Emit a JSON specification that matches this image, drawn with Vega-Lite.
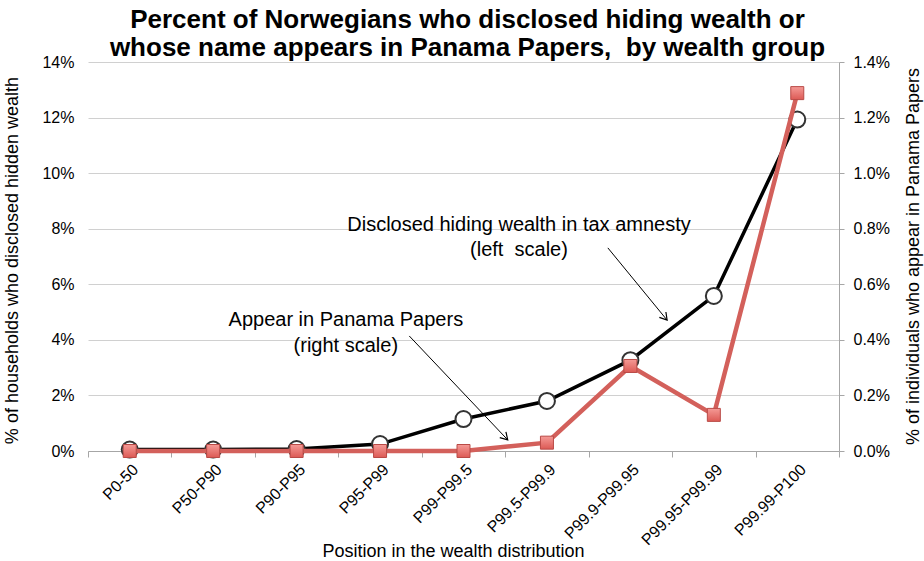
{
  "$schema": "https://vega.github.io/schema/vega-lite/v6.json",
  "width": 751,
  "height": 389,
  "autosize": {"type": "none"},
  "padding": {"left": 88, "top": 62, "right": 85, "bottom": 110},
  "config": {"font": "Liberation Sans", "view": {"stroke": null}},
  "title": {
    "text": ["Percent of Norwegians who disclosed hiding wealth or", "whose name appears in Panama Papers,\u00a0 by wealth group"],
    "fontSize": 26, "fontWeight": "bold", "color": "black", "anchor": "middle", "frame": "group",
    "offset": -7, "lineHeight": 28, "dx": 4
  },
  "datasets": {
    "groups": [
      {"group": "P0-50", "amnesty": 0.0005, "panama": 0.0},
      {"group": "P50-P90", "amnesty": 0.0005, "panama": 0.0},
      {"group": "P90-P95", "amnesty": 0.0007, "panama": 0.0},
      {"group": "P95-P99", "amnesty": 0.0025, "panama": 0.0},
      {"group": "P99-P99.5", "amnesty": 0.0115, "panama": 0.0},
      {"group": "P99.5-P99.9", "amnesty": 0.018, "panama": 0.0003},
      {"group": "P99.9-P99.95", "amnesty": 0.0327, "panama": 0.00306},
      {"group": "P99.95-P99.99", "amnesty": 0.0558, "panama": 0.0013},
      {"group": "P99.99-P100", "amnesty": 0.1193, "panama": 0.01288}
    ],
    "labels": [
      {"label": "Disclosed hiding wealth in tax amnesty", "x": 4.665, "y": 0.0815},
      {"label": "(left\u00a0 scale)", "x": 4.665, "y": 0.0723},
      {"label": "Appear in Panama Papers", "x": 2.59, "y": 0.0471},
      {"label": "(right scale)", "x": 2.59, "y": 0.0378}
    ],
    "arrows": [
      {"x1": 5.73, "y1": 0.0731, "x2": 6.44, "y2": 0.0471, "ang": 50.7},
      {"x1": 3.35, "y1": 0.0414, "x2": 4.53, "y2": 0.004, "ang": 46.4}
    ]
  },
  "layer": [
    {
      "data": {"name": "groups"},
      "mark": {
        "type": "line", "color": "black", "strokeWidth": 3.5,
        "point": {"filled": true, "fill": "white", "stroke": "#333333", "strokeWidth": 2, "size": 256, "opacity": 1}
      },
      "encoding": {
        "x": {
          "field": "group", "type": "nominal", "sort": null,
          "scale": {"type": "band", "paddingInner": 0, "paddingOuter": 0},
          "axis": {
            "title": "Position in the wealth distribution", "tickBand": "extent", "labelAngle": -45,
            "labelFontSize": 16, "labelColor": "black", "labelPadding": 4,
            "domainColor": "#a6a6a6", "tickColor": "#a6a6a6", "tickSize": 6, "grid": false,
            "titleFontSize": 18, "titleFontWeight": "normal", "titleColor": "black",
            "titleX": 365, "titleY": 100, "titleBaseline": "middle", "titleAlign": "center"
          }
        },
        "y": {
          "field": "amnesty", "type": "quantitative",
          "scale": {"domain": [0, 0.14], "nice": false},
          "axis": {
            "title": "% of households who disclosed hidden wealth", "format": ".0%",
            "values": [0, 0.02, 0.04, 0.06, 0.08, 0.1, 0.12, 0.14],
            "domain": false, "ticks": false, "grid": true, "gridColor": "#d0d0d0",
            "labelFontSize": 16, "labelColor": "black", "labelPadding": 14,
            "titleFontSize": 18, "titleFontWeight": "normal", "titleColor": "black",
            "titleX": -76, "titleY": 198, "titleBaseline": "middle", "titleAngle": -90
          }
        }
      }
    },
    {
      "data": {"name": "groups"},
      "mark": {
        "type": "line", "color": "#d3605b", "strokeWidth": 4.5,
        "point": {
          "shape": "square", "size": 169, "filled": true, "opacity": 1,
          "fill": {"gradient": "linear", "x1": 0, "y1": 0, "x2": 0, "y2": 1, "stops": [{"offset": 0, "color": "#f59a96"}, {"offset": 1, "color": "#dc5a55"}]},
          "stroke": "#b94a46", "strokeWidth": 1
        }
      },
      "encoding": {
        "x": {
          "field": "group", "type": "nominal", "sort": null,
          "scale": {"type": "band", "paddingInner": 0, "paddingOuter": 0},
          "axis": null
        },
        "y": {
          "field": "panama", "type": "quantitative",
          "scale": {"domain": [0, 0.014], "nice": false},
          "axis": {
            "orient": "right", "title": "% of individuals who appear in Panama Papers", "format": ".1%",
            "values": [0, 0.002, 0.004, 0.006, 0.008, 0.01, 0.012, 0.014],
            "grid": false, "domainColor": "#a6a6a6", "tickColor": "#a6a6a6", "tickSize": 5,
            "labelFontSize": 16, "labelColor": "black", "labelPadding": 9,
            "titleFontSize": 18, "titleFontWeight": "normal", "titleColor": "black",
            "titleX": 74, "titleY": 194, "titleBaseline": "middle", "titleAngle": -90
          }
        }
      }
    },
    {
      "data": {"name": "labels"},
      "mark": {"type": "text", "fontSize": 20, "align": "center", "baseline": "middle", "color": "black"},
      "encoding": {
        "x": {"field": "x", "type": "quantitative", "scale": {"domain": [-0.5, 8.5], "nice": false, "zero": false}, "axis": null},
        "y": {"field": "y", "type": "quantitative", "scale": {"domain": [0, 0.14], "nice": false}, "axis": null},
        "text": {"field": "label"}
      }
    },
    {
      "data": {"name": "arrows"},
      "mark": {"type": "rule", "color": "black", "strokeWidth": 1},
      "encoding": {
        "x": {"field": "x1", "type": "quantitative", "scale": {"domain": [-0.5, 8.5], "nice": false, "zero": false}, "axis": null},
        "x2": {"field": "x2"},
        "y": {"field": "y1", "type": "quantitative", "scale": {"domain": [0, 0.14], "nice": false}, "axis": null},
        "y2": {"field": "y2"}
      }
    },
    {
      "data": {"name": "arrows"},
      "mark": {"type": "point", "shape": "M-1,-0.6L0,0L-1,0.6", "filled": false, "stroke": "black", "strokeWidth": 1.2, "size": 200, "opacity": 1},
      "encoding": {
        "x": {"field": "x2", "type": "quantitative", "scale": {"domain": [-0.5, 8.5], "nice": false, "zero": false}, "axis": null},
        "y": {"field": "y2", "type": "quantitative", "scale": {"domain": [0, 0.14], "nice": false}, "axis": null},
        "angle": {"field": "ang", "type": "quantitative", "scale": null}
      }
    }
  ],
  "resolve": {"scale": {"x": "independent", "y": "independent"}}
}
